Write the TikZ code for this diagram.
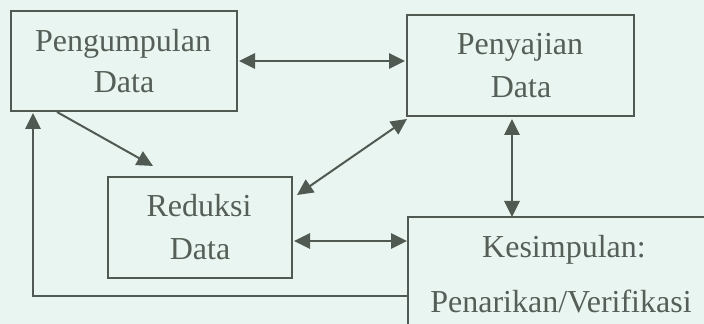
\documentclass[tikz,border=0pt]{standalone}
\usepackage{fontspec}
\setmainfont{Liberation Serif}
\usetikzlibrary{arrows.meta,calc}
\definecolor{bgc}{RGB}{233,245,240}
\definecolor{linec}{RGB}{80,90,82}
\definecolor{txtc}{RGB}{85,95,88}
\tikzset{
  boxc/.style={draw=linec,line width=1.1pt,inner sep=0pt,outer sep=0pt,rectangle},
  lbl/.style={anchor=base,inner sep=0pt,text=txtc,font=\fontsize{24}{28}\selectfont},
  conn/.style={draw=linec,line width=1.5pt},
  tip/.style={-{Triangle[length=12pt,width=11.5pt]}},
  dtip/.style={{Triangle[length=12pt,width=11.5pt]}-{Triangle[length=12pt,width=11.5pt]}}
}
\begin{document}
\begin{tikzpicture}[x=0.75pt,y=-0.75pt]
\fill[bgc] (0,0) rectangle (704,324);
\useasboundingbox (0,0) rectangle (704,324);
\clip (0,0) rectangle (704,324);
% boxes
\node[boxc,minimum width=169.5pt,minimum height=75pt] (box1) at (124,61) {};
\node[boxc,minimum width=170.25pt,minimum height=75.75pt] (box2) at (520.5,65.5) {};
\node[boxc,minimum width=138pt,minimum height=75.75pt] (box3) at (200,227.5) {};
\node[boxc,minimum width=234pt,minimum height=92.25pt,anchor=north west] (box4) at (408,217) {};
% labels
\node[lbl] (t1a) at (123,52) {Pengumpulan};
\node[lbl] (t1b) at (124,93) {Data};
\node[lbl] (t2a) at (520,55) {Penyajian};
\node[lbl] (t2b) at (521,98) {Data};
\node[lbl] (t3a) at (199,217) {Reduksi};
\node[lbl] (t3b) at (200,260) {Data};
\node[lbl] (t4a) at (564,258) {Kesimpulan:};
\node[lbl] (t4b) at (561,312) {Penarikan/Verifikasi};
% connector helpers
\coordinate (y34) at (0,241);
\coordinate (yfb) at (0,296);
% connectors
\draw[conn,dtip] ($(box1.east)+(2,0)$) -- ($(box1.east -| box2.west)+(-2,0)$);
\draw[conn,tip,shorten >=16.9pt] ($(box1.south west)+(46,1)$) -- ($(box3.north west)+(64.6,0)$);
\draw[conn,dtip] ($(box2.south west)+(0,3)$) -- ($(box3.north east)+(5,18)$);
\draw[conn,dtip] ($(box3.east |- y34)+(2,0)$) -- ($(box4.west |- y34)+(-1,0)$);
\draw[conn,dtip] ($(box2.south)+(-8.5,3)$) -- ($(box4.north -| box2.south)+(-8.5,0)$);
\draw[conn,tip] (box4.west |- yfb) -| ($(box1.south west)+(22,2)$);
\end{tikzpicture}
\end{document}
